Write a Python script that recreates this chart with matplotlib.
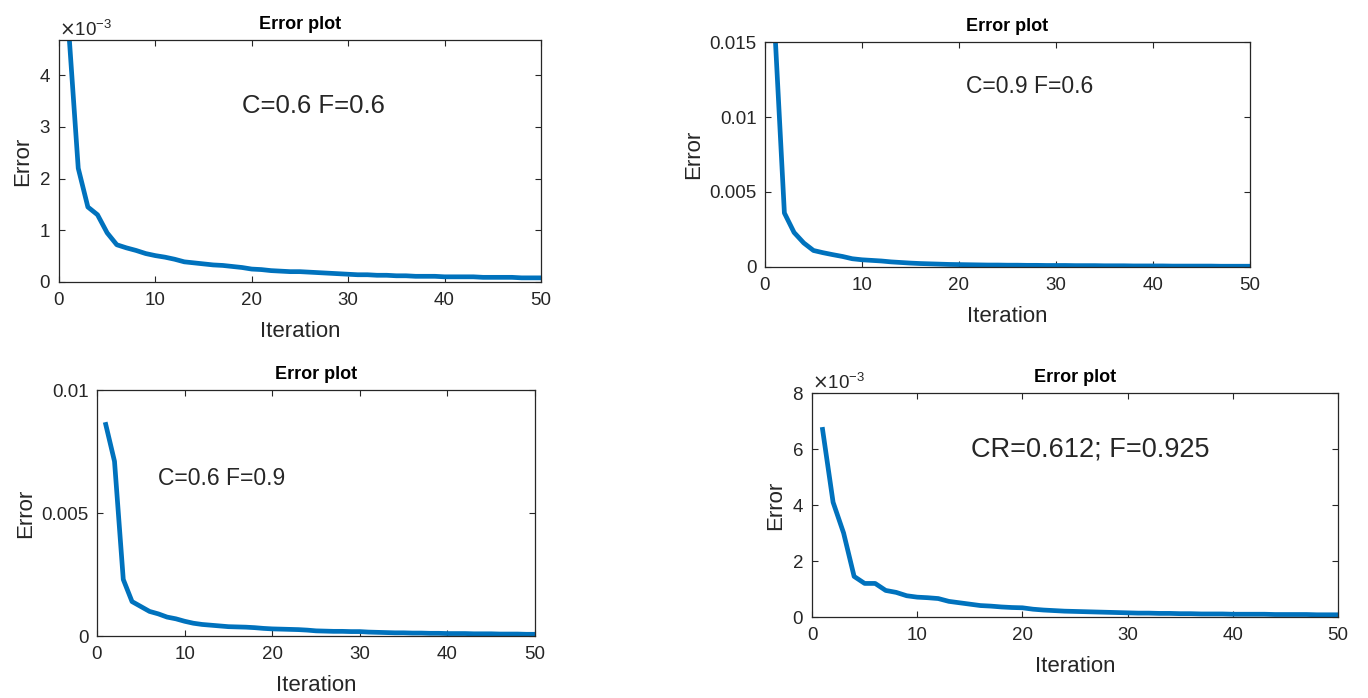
import numpy as np
import matplotlib.pyplot as plt
from matplotlib.ticker import FormatStrFormatter

# iteration axis shared by all four runs
iters = np.arange(1, 51)

# error per iteration
err_c06_f06 = [4.90e-3, 2.20e-3, 1.45e-3, 1.30e-3, 0.95e-3, 0.72e-3, 0.66e-3, 0.61e-3, 0.55e-3, 0.51e-3,
               0.48e-3, 0.44e-3, 0.39e-3, 0.37e-3, 0.35e-3, 0.33e-3, 0.32e-3, 0.30e-3, 0.28e-3, 0.25e-3,
               0.24e-3, 0.22e-3, 0.21e-3, 0.20e-3, 0.20e-3, 0.19e-3, 0.18e-3, 0.17e-3, 0.16e-3, 0.15e-3,
               0.14e-3, 0.14e-3, 0.13e-3, 0.13e-3, 0.12e-3, 0.12e-3, 0.11e-3, 0.11e-3, 0.11e-3, 0.10e-3,
               0.10e-3, 0.10e-3, 0.10e-3, 0.09e-3, 0.09e-3, 0.09e-3, 0.09e-3, 0.08e-3, 0.08e-3, 0.08e-3]

err_c09_f06 = [0.0160, 0.0036, 0.0023, 0.0016, 0.0011, 0.00095, 0.00082, 0.00070, 0.00055, 0.00048,
               0.00044, 0.00040, 0.00034, 0.00030, 0.00026, 0.00023, 0.00021, 0.00019, 0.00017, 0.00016,
               0.00015, 0.00014, 0.00013, 0.00013, 0.00012, 0.00012, 0.00011, 0.00011, 0.00010, 0.00010,
               0.00010, 0.00009, 0.00009, 0.00009, 0.00008, 0.00008, 0.00008, 0.00007, 0.00007, 0.00007,
               0.00007, 0.00006, 0.00006, 0.00006, 0.00006, 0.00006, 0.00005, 0.00005, 0.00005, 0.00005]

err_c06_f09 = [0.0086, 0.0071, 0.0023, 0.0014, 0.0012, 0.00100, 0.00090, 0.00077, 0.00070, 0.00060,
               0.00052, 0.00047, 0.00044, 0.00041, 0.00038, 0.00037, 0.00036, 0.00034, 0.00031, 0.00029,
               0.00028, 0.00027, 0.00026, 0.00024, 0.00021, 0.00020, 0.00019, 0.00019, 0.00018, 0.00018,
               0.00016, 0.00015, 0.00014, 0.00013, 0.00013, 0.00012, 0.00012, 0.00011, 0.00011, 0.00010,
               0.00010, 0.00010, 0.00009, 0.00009, 0.00009, 0.00008, 0.00008, 0.00008, 0.00007, 0.00007]

err_cr0612_f0925 = [6.70e-3, 4.10e-3, 3.00e-3, 1.45e-3, 1.20e-3, 1.20e-3, 0.95e-3, 0.88e-3, 0.76e-3, 0.71e-3,
                    0.69e-3, 0.66e-3, 0.56e-3, 0.51e-3, 0.46e-3, 0.41e-3, 0.39e-3, 0.36e-3, 0.34e-3, 0.33e-3,
                    0.28e-3, 0.25e-3, 0.23e-3, 0.21e-3, 0.20e-3, 0.19e-3, 0.18e-3, 0.17e-3, 0.16e-3, 0.15e-3,
                    0.14e-3, 0.14e-3, 0.13e-3, 0.13e-3, 0.12e-3, 0.12e-3, 0.11e-3, 0.11e-3, 0.11e-3, 0.10e-3,
                    0.10e-3, 0.10e-3, 0.10e-3, 0.09e-3, 0.09e-3, 0.09e-3, 0.09e-3, 0.08e-3, 0.08e-3, 0.08e-3]

labels = ['C=0.6 F=0.6', 'C=0.9 F=0.6', 'C=0.6 F=0.9', 'CR=0.612; F=0.925']

# plot setting
plt.rcParams['font.family'] = ['Liberation Sans', 'DejaVu Sans']
line_color = '#0072BD'
axis_color = '#262626'
tick_fs = 13.5
label_fs = 16
title_fs = 13

fig = plt.figure(figsize=(13.68, 6.98), dpi=100)

# [left, bottom, width, height] in figure fraction
ax_tl = fig.add_axes([0.0431, 0.596, 0.3523, 0.3467])
ax_tr = fig.add_axes([0.5592, 0.6175, 0.3545, 0.3223])
ax_bl = fig.add_axes([0.0709, 0.0888, 0.3202, 0.3524])
ax_br = fig.add_axes([0.5936, 0.116, 0.3845, 0.3209])

# axes, data, note, ylim, yticks, x10^-3 scale, note position, note font size
panels = [
    (ax_tl, err_c06_f06, labels[0], (0, 4.68e-3), [0, 1e-3, 2e-3, 3e-3, 4e-3], True, (0.527, 0.727), 18.5),
    (ax_tr, err_c09_f06, labels[1], (0, 0.015), [0, 0.005, 0.01, 0.015], False, (0.546, 0.804), 16.5),
    (ax_bl, err_c06_f09, labels[2], (0, 0.01), [0, 0.005, 0.01], False, (0.285, 0.642), 16.5),
    (ax_br, err_cr0612_f0925, labels[3], (0, 8e-3), [0, 2e-3, 4e-3, 6e-3, 8e-3], True, (0.529, 0.746), 19.5),
]

for ax, err, note, ylim, yticks, sci, note_pos, note_fs in panels:
    ax.plot(iters, err, color=line_color, linewidth=3.4, solid_joinstyle='round')
    ax.set_xlim(0, 50)
    ax.set_ylim(ylim)
    ax.set_xticks(np.arange(0, 51, 10))
    ax.set_yticks(yticks)
    if sci:
        ax.ticklabel_format(axis='y', style='sci', scilimits=(-3, -3), useMathText=True)
        ax.yaxis.get_offset_text().set_fontsize(tick_fs)
        ax.yaxis.get_offset_text().set_color(axis_color)
    else:
        ax.yaxis.set_major_formatter(FormatStrFormatter('%g'))
    ax.tick_params(direction='in', top=True, right=True, length=4, width=0.8,
                   labelsize=tick_fs, colors=axis_color)
    ax.tick_params(axis='x', pad=7)
    ax.tick_params(axis='y', pad=6)
    for sp in ax.spines.values():
        sp.set_color(axis_color)
        sp.set_linewidth(0.9)
    ax.set_title('Error plot', fontsize=title_fs, fontweight='bold', color='black', pad=8)
    ax.set_xlabel('Iteration', fontsize=label_fs, color=axis_color, labelpad=9)
    ax.set_ylabel('Error', fontsize=label_fs, color=axis_color, labelpad=4)
    ax.text(note_pos[0], note_pos[1], note, transform=ax.transAxes, ha='center', va='center',
            fontsize=note_fs, color=axis_color)

plt.savefig('out.png', dpi=100)
